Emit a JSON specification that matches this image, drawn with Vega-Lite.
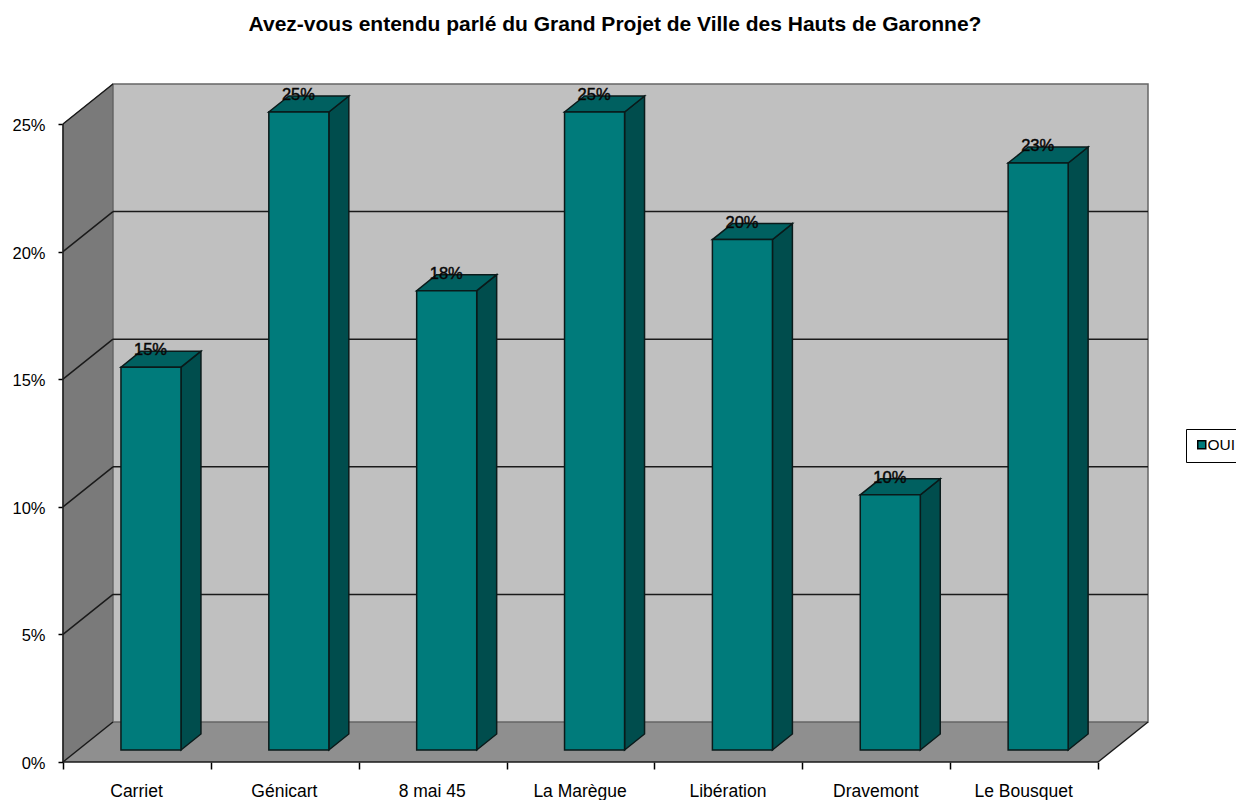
{
"$schema":"https://vega.github.io/schema/vega-lite/v6.json",
"width":1085,"height":678,
"autosize":{"type":"none"},
"padding":{"left":63,"top":84,"right":88,"bottom":38},
"background":"white",
"view":{"stroke":null},
"title":{"text":"Avez-vous entendu parlé du Grand Projet de Ville des Hauts de Garonne?","font":"Liberation Sans","fontSize":21,"fontWeight":"bold","color":"black","anchor":"middle","dx":9.5,"offset":47},
"data":{"values":[
{"quartier":"Carriet","ordre":0,"valeur":15,"reponse":"OUI"},
{"quartier":"Génicart","ordre":1,"valeur":25,"reponse":"OUI"},
{"quartier":"8 mai 45","ordre":2,"valeur":18,"reponse":"OUI"},
{"quartier":"La Marègue","ordre":3,"valeur":25,"reponse":"OUI"},
{"quartier":"Libération","ordre":4,"valeur":20,"reponse":"OUI"},
{"quartier":"Dravemont","ordre":5,"valeur":10,"reponse":"OUI"},
{"quartier":"Le Bousquet","ordre":6,"valeur":23,"reponse":"OUI"}
]},
"layer":[
{"data":{"values":[{"p":0},{"p":1}]},
 "transform":[{"calculate":"datum.p*0.338","as":"x"},{"calculate":"datum.p*1.567","as":"y0"},{"calculate":"25+datum.p*1.567","as":"y1"}],
 "mark":{"type":"area","fill":"#7a7a7a","stroke":"#666666","strokeWidth":1},
 "encoding":{
  "x":{"field":"x","type":"quantitative","title":null,"scale":{"domain":[0,7.338],"nice":false,"zero":false},
   "axis":{"title":null,"values":[0,1,2,3,4,5,6,7],"grid":false,"domain":false,"tickColor":"black","tickSize":7,"tickWidth":1.5,
    "labelExpr":"['Carriet','Génicart','8 mai 45','La Marègue','Libération','Dravemont','Le Bousquet',''][datum.value]",
    "labelOffset":73,"labelFont":"Liberation Sans","labelFontSize":17.5,"labelColor":"black","labelPadding":13,"labelAlign":"center","labelFlush":false,"labelOverlap":false,"labelBound":false}},
  "y":{"field":"y0","type":"quantitative","title":null,"scale":{"domain":[0,26.567],"nice":false,"zero":false},
   "axis":{"title":null,"values":[0,5,10,15,20,25],"grid":false,"domain":false,"tickColor":"black","tickSize":5,"tickWidth":1.5,
    "labelExpr":"datum.value+'%'","labelFont":"Liberation Sans","labelFontSize":16.5,"labelColor":"black","labelPadding":13,"labelOffset":1.5}},
  "y2":{"field":"y1","title":null}}},
{"data":{"values":[{"p":0},{"p":1}]},
 "transform":[{"calculate":"datum.p*1.567","as":"y"},{"calculate":"datum.p*0.338","as":"x0"},{"calculate":"7+datum.p*0.338","as":"x1"}],
 "mark":{"type":"area","orient":"horizontal","fill":"#8f8f8f"},
 "encoding":{"y":{"field":"y","type":"quantitative","title":null},"x":{"field":"x0","type":"quantitative","title":null},"x2":{"field":"x1","title":null}}},
{"data":{"values":[{"mur":"fond"}]},
 "mark":{"type":"rect","fill":"#c0c0c0","stroke":"#666666","strokeWidth":1.5},
 "encoding":{"x":{"datum":0.338,"type":"quantitative","title":null},"x2":{"datum":7.338},"y":{"datum":1.567,"type":"quantitative","title":null},"y2":{"datum":26.567}}},
{"data":{"values":[{"g":5},{"g":10},{"g":15},{"g":20}]},
 "transform":[{"calculate":"datum.g+1.567","as":"gy"}],
 "mark":{"type":"rule","color":"#1a1a1a","strokeWidth":1.5},
 "encoding":{"x":{"datum":0.338,"type":"quantitative","title":null},"x2":{"datum":7.338},"y":{"field":"gy","type":"quantitative","title":null}}},
{"data":{"values":[{"g":0},{"g":5},{"g":10},{"g":15},{"g":20},{"g":25}]},
 "transform":[{"calculate":"datum.g+1.567","as":"gy"}],
 "mark":{"type":"rule","color":"#1a1a1a","strokeWidth":1.5},
 "encoding":{"x":{"datum":0,"type":"quantitative","title":null},"x2":{"datum":0.338},"y":{"field":"g","type":"quantitative","title":null},"y2":{"field":"gy","title":null}}},
{"data":{"values":[{"g":0}]},
 "mark":{"type":"rule","color":"#1a1a1a","strokeWidth":1.5},
 "encoding":{"x":{"datum":0,"type":"quantitative","title":null},"x2":{"datum":7},"y":{"datum":0,"type":"quantitative","title":null}}},
{"data":{"values":[{"g":0}]},
 "mark":{"type":"rule","color":"#1a1a1a","strokeWidth":1.5},
 "encoding":{"x":{"datum":0,"type":"quantitative","title":null},"y":{"datum":0,"type":"quantitative","title":null},"y2":{"datum":25}}},
{"data":{"values":[{"g":0}]},
 "mark":{"type":"rule","color":"#1a1a1a","strokeWidth":1.5},
 "encoding":{"x":{"datum":7,"type":"quantitative","title":null},"x2":{"datum":7.338},"y":{"datum":0,"type":"quantitative","title":null},"y2":{"datum":1.567}}},
{"transform":[{"calculate":"[0,1]","as":"p"},{"flatten":["p"]},
  {"calculate":"datum.ordre+0.798+datum.p*0.135","as":"x"},
  {"calculate":"0.47+datum.p*0.627","as":"y0"},
  {"calculate":"datum.valeur+0.47+datum.p*0.627","as":"y1"}],
 "mark":{"type":"area","fill":"#004d4d","stroke":"#0a1a1a","strokeWidth":1.5},
 "encoding":{"detail":{"field":"quartier"},"x":{"field":"x","type":"quantitative","title":null},"y":{"field":"y0","type":"quantitative","title":null},"y2":{"field":"y1","title":null}}},
{"transform":[{"calculate":"[0,1]","as":"p"},{"flatten":["p"]},
  {"calculate":"datum.valeur+0.47+datum.p*0.627","as":"y"},
  {"calculate":"datum.ordre+0.392+datum.p*0.135","as":"x0"},
  {"calculate":"datum.ordre+0.798+datum.p*0.135","as":"x1"}],
 "mark":{"type":"area","orient":"horizontal","fill":"#006060","stroke":"#0a1a1a","strokeWidth":1.5},
 "encoding":{"detail":{"field":"quartier"},"y":{"field":"y","type":"quantitative","title":null},"x":{"field":"x0","type":"quantitative","title":null},"x2":{"field":"x1","title":null}}},
{"transform":[{"calculate":"datum.ordre+0.392","as":"x0"},{"calculate":"datum.ordre+0.798","as":"x1"},{"calculate":"datum.valeur+0.47","as":"y1"},{"calculate":"0.47","as":"y0"}],
 "mark":{"type":"rect","stroke":"#0a1a1a","strokeWidth":1.5},
 "encoding":{"x":{"field":"x0","type":"quantitative","title":null},"x2":{"field":"x1","title":null},"y":{"field":"y0","type":"quantitative","title":null},"y2":{"field":"y1","title":null},
  "color":{"field":"reponse","type":"nominal","scale":{"domain":["OUI"],"range":["#007b7b"]},
   "legend":{"title":null,"orient":"none","legendX":1123,"legendY":345,"strokeColor":"black","fillColor":"white","padding":8,"symbolType":"square","symbolSize":64,"symbolStrokeColor":"black","symbolStrokeWidth":1.5,"symbolOpacity":1,"labelFont":"Liberation Sans","labelFontSize":15.5,"labelColor":"black","labelOffset":-2,"labelLimit":60}}}},
{"transform":[{"calculate":"datum.ordre+0.592","as":"x"},{"calculate":"datum.valeur+0.47","as":"y"},{"calculate":"datum.valeur+'%'","as":"etiquette"}],
 "mark":{"type":"text","font":"Liberation Sans","fontSize":16.5,"color":"black","stroke":"#111111","strokeWidth":0.5,"align":"center","baseline":"middle","yOffset":-17},
 "encoding":{"x":{"field":"x","type":"quantitative","title":null},"y":{"field":"y","type":"quantitative","title":null},"text":{"field":"etiquette"}}}
]
}
